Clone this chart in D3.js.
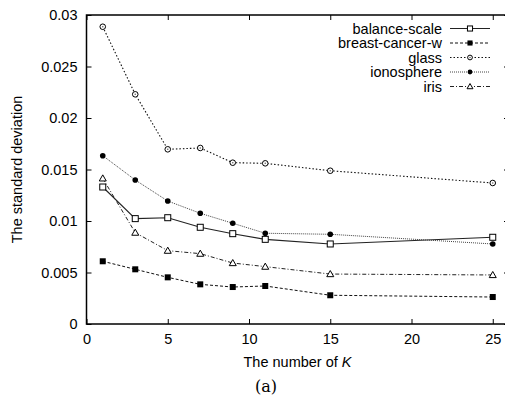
<!DOCTYPE html>
<html><head><meta charset="utf-8">
<script src="https://cdn.jsdelivr.net/npm/d3@7"></script>
<style>
html,body{margin:0;padding:0;background:#fff;}
svg{display:block;font-family:"Liberation Sans",Arial,sans-serif;}
</style></head>
<body>
<svg id="c" width="505" height="395"></svg>
<script>
const kValues = [1, 3, 5, 7, 9, 11, 15, 25];
const seriesNames = ["balance-scale", "breast-cancer-w", "glass", "ionosphere", "iris"];
const balanceScale = [0.0133, 0.01023, 0.01032, 0.00939, 0.00877, 0.00822, 0.00777, 0.00842];
const breastCancerW = [0.00609, 0.00531, 0.00453, 0.00385, 0.00359, 0.00369, 0.00279, 0.00262];
const glass = [0.02886, 0.0223, 0.01696, 0.01709, 0.01566, 0.0156, 0.01488, 0.01369];
const ionosphere = [0.01634, 0.01398, 0.01194, 0.01075, 0.00978, 0.00881, 0.00871, 0.00777];
const iris = [0.01414, 0.00887, 0.00712, 0.00683, 0.00592, 0.00557, 0.00485, 0.00476];
const xTicks = [0, 5, 10, 15, 20, 25];
const yTicks = [0, 0.005, 0.01, 0.015, 0.02, 0.025, 0.03];

const seriesValues = [balanceScale, breastCancerW, glass, ionosphere, iris];
const styles = [
  {stroke:"#222", width:1.1, dash:null, marker:"sqOpen"},
  {stroke:"#111", width:1, dash:"3,2", marker:"sqFill"},
  {stroke:"#111", width:1.1, dash:"1.5,2", marker:"circOpen"},
  {stroke:"#444", width:1, dash:"1,1", marker:"circFill"},
  {stroke:"#222", width:1, dash:"4,2,1,2", marker:"triOpen"}
];

const svg = d3.select("#c");
const L = 86.5, T = 15, B = 324, R = 509;
const x = d3.scaleLinear().domain([0, 26]).range([L, R]);
const y = d3.scaleLinear().domain([0, 0.03]).range([B, T]);

// frame
svg.append("rect").attr("x", L).attr("y", T).attr("width", R - L).attr("height", B - T)
  .attr("fill", "none").attr("stroke", "#000").attr("stroke-width", 1.5);

// axes
const fs = "14.5px";
const xAxis = svg.append("g").attr("transform", `translate(0,${B})`)
  .call(d3.axisBottom(x).tickValues(xTicks).tickSize(-5).tickPadding(10).tickFormat(d3.format("d")));
xAxis.select(".domain").remove();
xAxis.selectAll("text").attr("font-size", fs).attr("font-family", "Liberation Sans, Arial, sans-serif").attr("fill", "#000");
const xTop = svg.append("g").attr("transform", `translate(0,${T})`)
  .call(d3.axisTop(x).tickValues(xTicks).tickSize(-5).tickFormat(""));
xTop.select(".domain").remove();

const yAxis = svg.append("g").attr("transform", `translate(${L},0)`)
  .call(d3.axisLeft(y).tickValues(yTicks).tickSize(-5).tickPadding(9).tickFormat(d => d === 0 ? "0" : d3.format("")(+d.toFixed(3))));
yAxis.select(".domain").remove();
yAxis.selectAll("text").attr("font-size", fs).attr("font-family", "Liberation Sans, Arial, sans-serif").attr("fill", "#000");
const yRight = svg.append("g").attr("transform", `translate(${R},0)`)
  .call(d3.axisRight(y).tickValues(yTicks).tickSize(-5).tickFormat(""));
yRight.select(".domain").remove();
svg.selectAll(".tick line").attr("stroke", "#000").attr("stroke-width", 1);

// labels
svg.append("text").attr("x", 17).attr("y", (T + B) / 2)
  .attr("transform", `rotate(-90,17,${(T + B) / 2})`)
  .attr("text-anchor", "middle").attr("dominant-baseline", "central")
  .attr("font-size", fs).text("The standard deviation");
const xl = svg.append("text").attr("x", 297.5).attr("y", 367).attr("text-anchor", "middle").attr("font-size", fs);
xl.append("tspan").text("The number of ");
xl.append("tspan").attr("font-style", "italic").text("K");
svg.append("text").attr("x", 266).attr("y", 392).attr("text-anchor", "middle")
  .attr("font-family", "DejaVu Serif, serif").attr("font-size", "16px").text("(a)");

// markers
function drawMarker(g, type, cx, cy, k) {
  if (type === "sqOpen") {
    const h = 3 * k;
    g.append("rect").attr("x", cx - h).attr("y", cy - h).attr("width", 2 * h).attr("height", 2 * h)
      .attr("fill", "#fff").attr("stroke", "#000").attr("stroke-width", 1);
  } else if (type === "sqFill") {
    const h = 3 * k;
    g.append("rect").attr("x", cx - h).attr("y", cy - h).attr("width", 2 * h).attr("height", 2 * h).attr("fill", "#000");
  } else if (type === "circOpen") {
    g.append("circle").attr("cx", cx).attr("cy", cy).attr("r", 2.8 * k).attr("fill", "#fff").attr("stroke", "#000").attr("stroke-width", 1);
    g.append("circle").attr("cx", cx).attr("cy", cy).attr("r", 0.8).attr("fill", "#666");
  } else if (type === "circFill") {
    g.append("circle").attr("cx", cx).attr("cy", cy).attr("r", 2.8 * k).attr("fill", "#000");
  } else if (type === "triOpen") {
    const s = 3.5 * k;
    g.append("path").attr("d", `M${cx},${cy - s}L${cx + s},${cy + s * 0.75}L${cx - s},${cy + s * 0.75}Z`)
      .attr("fill", "#fff").attr("stroke", "#000").attr("stroke-width", 1);
  }
}

const line = d3.line().x(d => x(d[0])).y(d => y(d[1]));
seriesValues.forEach((vals, i) => {
  const st = styles[i];
  const pts = kValues.map((k, j) => [k, vals[j]]);
  const g = svg.append("g");
  g.append("path").datum(pts).attr("d", line).attr("fill", "none")
    .attr("stroke", st.stroke).attr("stroke-width", st.width).attr("stroke-dasharray", st.dash);
  pts.forEach(p => drawMarker(g, st.marker, x(p[0]), y(p[1]), 1));
});

// legend
const legY = [28.5, 43, 57.5, 72, 86.5];
seriesNames.forEach((name, i) => {
  const st = styles[i];
  const g = svg.append("g");
  g.append("text").attr("x", 442).attr("y", legY[i]).attr("text-anchor", "end")
    .attr("dominant-baseline", "central").attr("font-size", fs).text(name);
  g.append("line").attr("x1", 450).attr("x2", 490).attr("y1", legY[i]).attr("y2", legY[i])
    .attr("stroke", st.stroke).attr("stroke-width", st.width).attr("stroke-dasharray", st.dash);
  drawMarker(g, st.marker, 470, legY[i], 0.85);
});
</script>
</body></html>
